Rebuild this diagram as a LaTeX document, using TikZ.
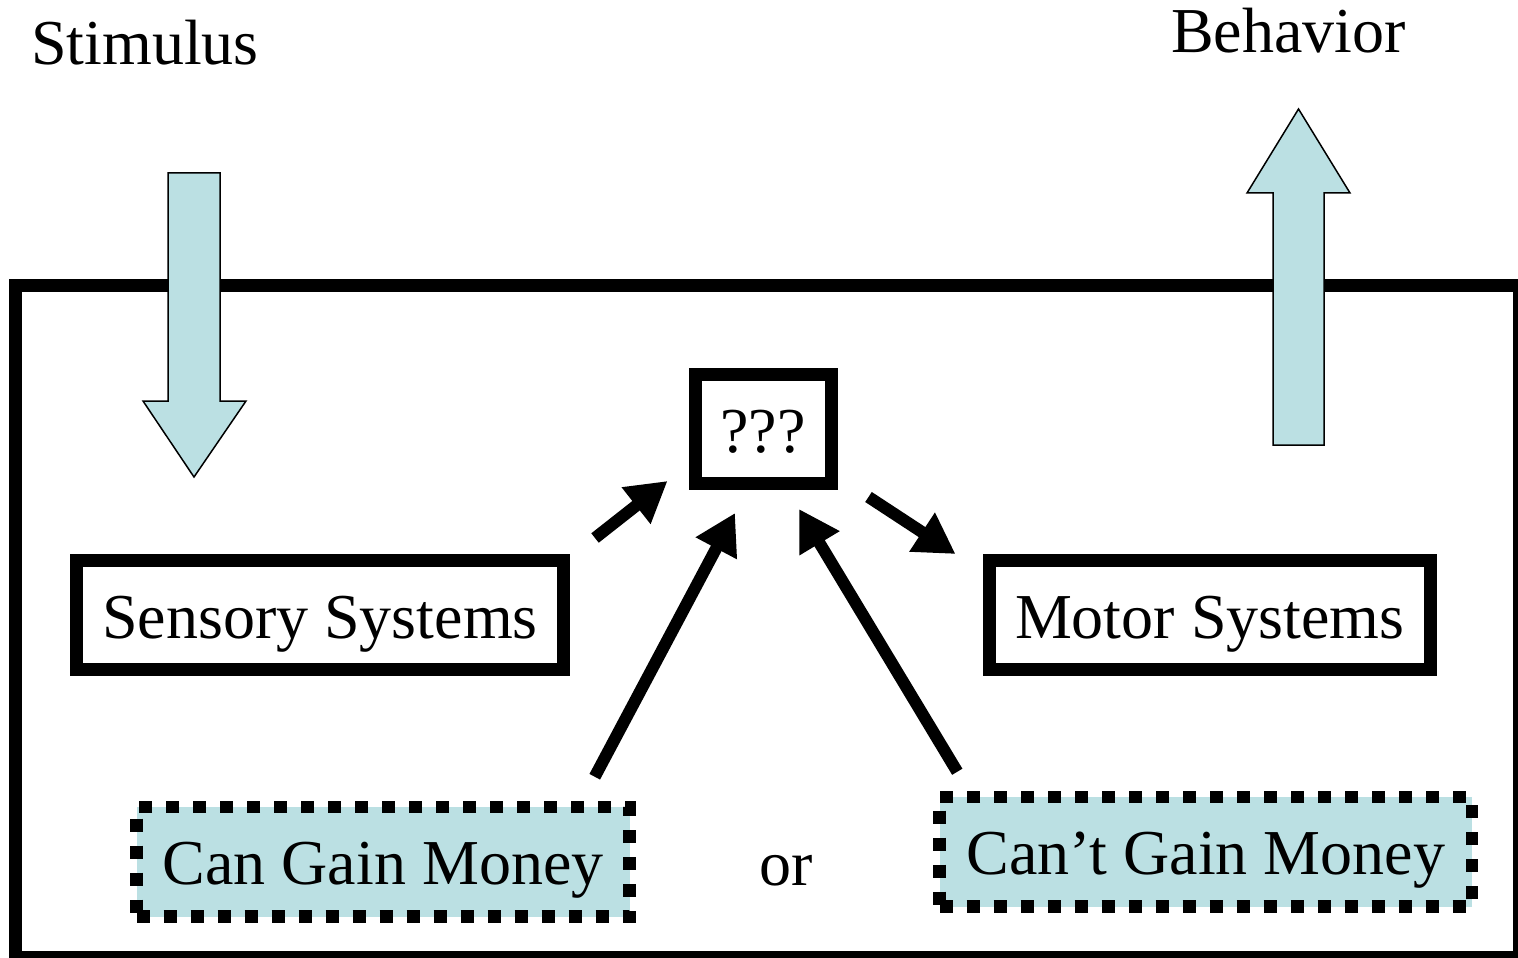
\documentclass[tikz,border=0pt]{standalone}
\usepackage{fontspec}
\setmainfont{Liberation Serif}
\usetikzlibrary{arrows.meta}
\definecolor{paleblue}{HTML}{BBE0E3}

\begin{document}
\begin{tikzpicture}[x=0.5pt,y=-0.5pt,
  every node/.style={font=\fontsize{32}{38}\selectfont},
  box/.style={draw,line width=6.5pt,inner sep=0pt,text height=23pt,text depth=0pt,minimum height=54.5pt},
  dotbox/.style={draw,fill=paleblue,line width=6.25pt,dash pattern=on 6.5pt off 7pt,inner sep=0pt,text height=23pt,text depth=0pt,minimum height=54.75pt},
  fat/.style={line width=6pt,-{Triangle[length=20pt,width=22pt]}},
  bigarrow/.style={draw=black,fill=paleblue,line width=0.75pt,line join=miter}]
 \useasboundingbox (0,0) rectangle (1518,957);
 \draw[line width=6.5pt] (15,285.5) rectangle (1519.5,957.5);
 % in and out
 \draw[bigarrow] (168,173)--(220,173)--(220,401)--(246,401)--(194,477)--(143,401)--(168,401)--cycle;
 \draw[bigarrow] (1273,445)--(1324,445)--(1324,193)--(1350,193)--(1298.5,109)--(1247,193)--(1273,193)--cycle;
 \node[anchor=base] (stim) at (145,65) {Stimulus};
 \node[anchor=base] (beh) at (1288.5,53) {Behavior};
 % boxes
 \node[box,minimum width=68pt] (q) at (763,429) {???};
 \node[box,minimum width=243.5pt] (sens) at (320,615) {Sensory Systems};
 \node[box,minimum width=220.75pt] (mot) at (1209.75,615) {Motor Systems};
 \node[dotbox,minimum width=246.5pt] (can) at (383,861.75) {Can Gain Money};
 \node[dotbox,minimum width=266.25pt] (cant) at (1205.75,851.75) {Can’t Gain Money};
 \node[anchor=base] (or) at (786,885) {or};
 % arrows
 \draw[fat] ([shift={(25,-16)}]sens.north east) -- ([shift={(-21,-9)}]q.south west);
 \draw[fat] ([shift={(-41,-24)}]can.north east) -- ([shift={(-28,23)}]q.south);
 \draw[fat] ([shift={(24,-19)}]cant.north west) -- ([shift={(36,19)}]q.south);
 \draw[fat] ([shift={(31,7)}]q.south east) -- ([shift={(-27,0)}]mot.north west);
\end{tikzpicture}
\end{document}
